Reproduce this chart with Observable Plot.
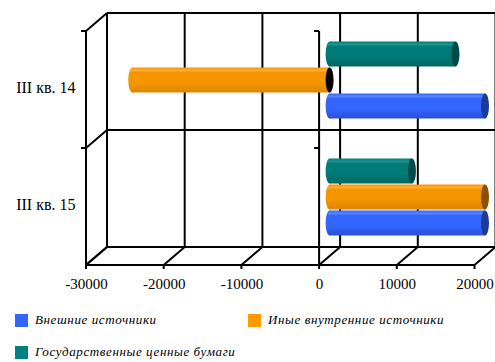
<!DOCTYPE html>
<html><head><meta charset="utf-8">
<script src="https://cdn.jsdelivr.net/npm/d3@7"></script>
<script src="https://cdn.jsdelivr.net/npm/@observablehq/plot@0.6"></script>
<style>
body{margin:0;background:#fff;}
#wrap{position:relative;width:495px;height:362px;overflow:hidden;}
.leg{position:absolute;font-family:"Liberation Serif","Times New Roman","DejaVu Serif",serif;font-style:italic;font-size:13px;letter-spacing:0.6px;color:#000;white-space:nowrap;}
.sw{position:absolute;width:13px;height:13px;}
svg text{font-family:"Liberation Serif","Times New Roman","DejaVu Serif",serif;}
</style></head><body><div id="wrap"></div>
<script>
// ---- data ----
const categories = ["III кв. 14", "III кв. 15"];
const seriesNames = ["Внешние источники", "Иные внутренние источники", "Государственные ценные бумаги"];
const seriesColors = ["#3366ff", "#ff9900", "#008080"];
const valuesExternal = [20000, 20000];
const valuesOtherInternal = [-25400, 20000];
const valuesGovSecurities = [16200, 10600];
const xTicks = [-30000, -20000, -10000, 0, 10000, 20000];

// drawing order top-to-bottom within a group: gov, other, external
const rows = [];
categories.forEach((c, i) => {
  rows.push({cat: c, s: 2, slot: 0, v: valuesGovSecurities[i]});
  rows.push({cat: c, s: 1, slot: 1, v: valuesOtherInternal[i]});
  rows.push({cat: c, s: 0, slot: 2, v: valuesExternal[i]});
});

const palette = {
  0: {light: "#5a85ff", base: "#3366ff", dark: "#2a4fd6", cap: "#1e3a99"},
  1: {light: "#ffad33", base: "#f59500", dark: "#dc8600", cap: "#8a5200"},
  2: {light: "#1a9590", base: "#007b78", dark: "#006663", cap: "#004a48"}
};

const DX = 21, DY = -18;      // depth of the 3-D box
const BDX = 10.5, BDY = -9.5; // bars at mid depth
const BH = 25;

function frame3d(index, scales, values, dims) {
  const x = scales.x, y = scales.y;
  const g = d3.create("svg:g").attr("fill", "none").attr("stroke", "#000").attr("stroke-width", 2);
  const top = dims.marginTop, bot = dims.height - dims.marginBottom;
  const bw = y.bandwidth ? y.bandwidth() : (bot - top) / categories.length;
  const xl = x(xTicks[0]), xr = x(xTicks[xTicks.length - 1]);
  const ys = categories.map(c => y(c)).concat([y(categories[categories.length - 1]) + bw]);
  const line = (x1, y1, x2, y2) => g.append("line").attr("x1", x1).attr("y1", y1).attr("x2", x2).attr("y2", y2);
  // back wall
  line(xl + DX, top + DY, xr + DX + 5, top + DY);
  ys.slice(1).forEach(yy => line(xl + DX, yy + DY, xr + DX + 5, yy + DY));
  xTicks.forEach(t => line(x(t) + DX, top + DY, x(t) + DX, bot + DY));
  // floor diagonals
  xTicks.forEach(t => line(x(t), bot, x(t) + DX, bot + DY));
  // left wall diagonals
  ys.forEach(yy => line(xl, yy, xl + DX, yy + DY));
  // front axes
  line(xl, top, xl, bot);
  line(x(0), top, x(0), bot);
  line(xl, bot, xr, bot);
  ys.slice(0, -1).forEach(yy => { line(xl - 5, yy, xl, yy); line(x(0) - 5, yy, x(0), yy); });
  xTicks.forEach(t => line(x(t), bot, x(t), bot + 4));
  return g.node();
}

function cylinders(index, scales, values, dims) {
  const x = scales.x, y = scales.y;
  const top = dims.marginTop, bot = dims.height - dims.marginBottom;
  const bw = y.bandwidth ? y.bandwidth() : (bot - top) / categories.length;
  const g = d3.create("svg:g");
  const defs = g.append("defs");
  Object.entries(palette).forEach(([k, p]) => {
    const lg = defs.append("linearGradient").attr("id", "cyl" + k).attr("x1", 0).attr("y1", 0).attr("x2", 0).attr("y2", 1);
    lg.append("stop").attr("offset", "0").attr("stop-color", p.base);
    lg.append("stop").attr("offset", "0.12").attr("stop-color", p.light);
    lg.append("stop").attr("offset", "0.2").attr("stop-color", p.base);
    lg.append("stop").attr("offset", "0.6").attr("stop-color", p.base);
    lg.append("stop").attr("offset", "1").attr("stop-color", p.dark);
  });
  const rx = 4;
  rows.forEach(r => {
    const p = palette[r.s];
    const yc = y(r.cat) + bw / 2 + BDY + (r.slot - 1) * (BH + 1);
    const a = x(0) + BDX, b = x(r.v) + BDX;
    const left = Math.min(a, b), right = Math.max(a, b);
    const fill = `url(#cyl${r.s})`;
    g.append("ellipse").attr("cx", left).attr("cy", yc).attr("rx", rx).attr("ry", BH / 2).attr("fill", fill);
    g.append("rect").attr("x", left).attr("y", yc - BH / 2).attr("width", right - left).attr("height", BH).attr("fill", fill);
    g.append("ellipse").attr("cx", right).attr("cy", yc).attr("rx", rx).attr("ry", BH / 2)
      .attr("fill", r.v < 0 ? "#000" : p.cap);
  });
  return g.node();
}

const chart = Plot.plot({
  width: 495,
  height: 300,
  marginLeft: 86,
  marginRight: 20.5,
  marginTop: 31,
  marginBottom: 35,
  style: {fontFamily: "'Liberation Serif', 'Times New Roman', 'DejaVu Serif', serif", fontSize: "15px", background: "transparent", color: "#000"},
  x: {domain: [xTicks[0], xTicks[xTicks.length - 1]]},
  y: {type: "band", domain: categories, padding: 0},
  marks: [
    frame3d,
    cylinders,
    Plot.axisX(xTicks, {tickSize: 0, tickPadding: 13, fontSize: 15, tickFormat: d => String(d)}),
    Plot.axisY(categories, {tickSize: 0, tickPadding: 11, fontSize: 16, dy: -2})
  ]
});
const wrap = document.getElementById("wrap");
wrap.appendChild(chart);

const legendPos = [[15, 314], [248, 314], [15, 346]];
seriesNames.forEach((n, i) => {
  const sw = document.createElement("div");
  sw.className = "sw";
  sw.style.left = legendPos[i][0] + "px";
  sw.style.top = legendPos[i][1] + "px";
  sw.style.background = seriesColors[i];
  wrap.appendChild(sw);
  const t = document.createElement("div");
  t.className = "leg";
  t.textContent = n;
  t.style.left = (legendPos[i][0] + 20) + "px";
  t.style.top = (legendPos[i][1] - 2) + "px";
  wrap.appendChild(t);
});
</script></body></html>
